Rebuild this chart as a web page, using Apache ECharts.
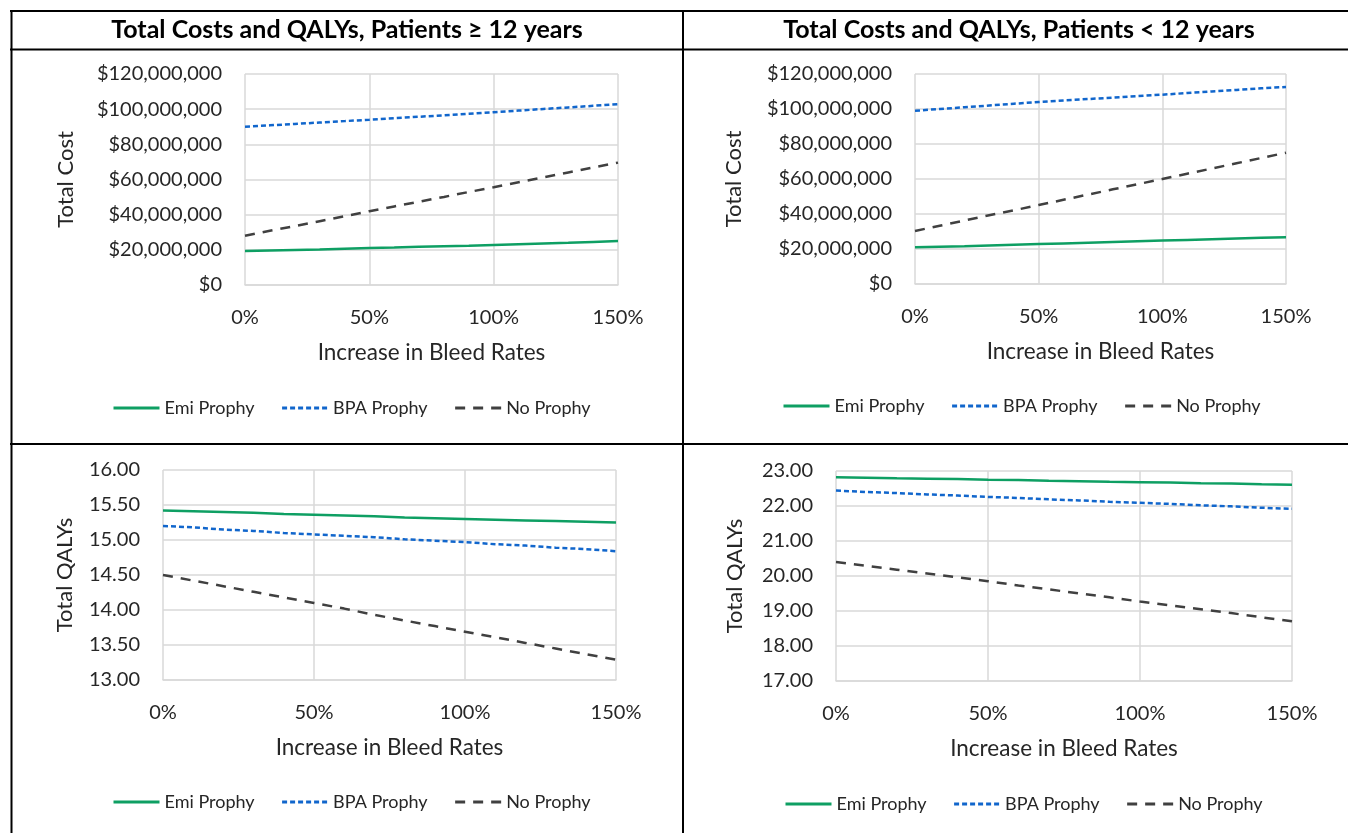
<!DOCTYPE html>
<html>
<head>
<meta charset="utf-8">
<script src="https://cdn.jsdelivr.net/npm/echarts@6/dist/echarts.min.js"></script>
<style>
  html, body { margin: 0; padding: 0; background: #fff; }
  #chart { width: 1348px; height: 833px; }
</style>
</head>
<body>
<div id="chart"></div>
<script>
// increase in bleed rates (0 = 0%, 1.5 = 150%)
const bleedIncrease = [0, 0.1, 0.2, 0.3, 0.4, 0.5, 0.6, 0.7, 0.8, 0.9, 1.0, 1.1, 1.2, 1.3, 1.4, 1.5]
const xTicks = ['0%', '50%', '100%', '150%']
const seriesNames = ['Emi Prophy', 'BPA Prophy', 'No Prophy']
const panelTitles = ['Total Costs and QALYs, Patients \u2265 12 years', 'Total Costs and QALYs, Patients < 12 years']

// total cost, millions of dollars — patients >= 12
const costOldEmi = [19.3, 19.6, 19.9, 20.2, 20.6, 21.0, 21.3, 21.7, 22.0, 22.3, 22.8, 23.2, 23.6, 24.0, 24.5, 25.0]
const costOldBpa = [90.0, 90.8, 91.6, 92.4, 93.2, 94.0, 94.9, 95.7, 96.5, 97.4, 98.3, 99.2, 100.1, 101.0, 101.9, 102.8]
const costOldNo = [28.0, 30.8, 33.5, 36.3, 39.1, 42.0, 44.7, 47.4, 50.1, 52.9, 55.6, 58.4, 61.2, 64.0, 66.8, 69.6]
// total cost, millions of dollars — patients < 12
const costYoungEmi = [21.0, 21.3, 21.6, 22.0, 22.4, 22.8, 23.2, 23.6, 24.0, 24.4, 24.8, 25.2, 25.6, 26.0, 26.4, 26.7]
const costYoungBpa = [99.0, 100.0, 101.0, 102.0, 103.0, 104.0, 104.9, 105.7, 106.5, 107.4, 108.2, 109.1, 110.0, 110.9, 111.8, 112.6]
const costYoungNo = [30.3, 33.3, 36.3, 39.3, 42.1, 45.1, 48.1, 51.1, 54.1, 57.0, 60.0, 63.0, 66.0, 69.0, 72.0, 75.0]
// total QALYs — patients >= 12
const qalyOldEmi = [15.42, 15.41, 15.40, 15.39, 15.37, 15.36, 15.35, 15.34, 15.32, 15.31, 15.30, 15.29, 15.28, 15.27, 15.26, 15.25]
const qalyOldBpa = [15.20, 15.18, 15.15, 15.13, 15.10, 15.08, 15.06, 15.04, 15.01, 14.99, 14.97, 14.94, 14.92, 14.89, 14.87, 14.84]
const qalyOldNo = [14.50, 14.42, 14.34, 14.26, 14.18, 14.10, 14.02, 13.93, 13.85, 13.77, 13.69, 13.61, 13.53, 13.45, 13.37, 13.29]
// total QALYs — patients < 12
const qalyYoungEmi = [22.82, 22.81, 22.79, 22.78, 22.77, 22.75, 22.74, 22.72, 22.71, 22.69, 22.68, 22.67, 22.65, 22.64, 22.62, 22.61]
const qalyYoungBpa = [22.44, 22.40, 22.37, 22.33, 22.30, 22.26, 22.23, 22.19, 22.16, 22.12, 22.09, 22.06, 22.02, 21.99, 21.95, 21.92]
const qalyYoungNo = [20.40, 20.29, 20.18, 20.07, 19.96, 19.85, 19.73, 19.62, 19.50, 19.39, 19.27, 19.16, 19.05, 18.94, 18.82, 18.71]

const FONT = 'Lato'
const TXT = '#262626'
const GRIDC = '#D9D9D9'
const lineStyles = [
  { color: '#0E9F63', width: 2.5, type: 'solid' },
  { color: '#1166CC', width: 2.5, type: [5, 3] },
  { color: '#404040', width: 2.5, type: [10, 8] }
]

const panels = [
  { grid: { left: 245, top: 74, width: 373, height: 211 }, data: [costOldEmi, costOldBpa, costOldNo], min: 0, max: 120, interval: 20, name: 'Total Cost', nameGap: 168, money: true, legend: { left: 112, top: 399 } },
  { grid: { left: 915, top: 74, width: 371, height: 210 }, data: [costYoungEmi, costYoungBpa, costYoungNo], min: 0, max: 120, interval: 20, name: 'Total Cost', nameGap: 170, money: true, legend: { left: 782, top: 397 } },
  { grid: { left: 163, top: 470, width: 453, height: 210 }, data: [qalyOldEmi, qalyOldBpa, qalyOldNo], min: 13, max: 16, interval: 0.5, name: 'Total QALYs', nameGap: 87, money: false, legend: { left: 112, top: 793 } },
  { grid: { left: 836, top: 471, width: 456, height: 210 }, data: [qalyYoungEmi, qalyYoungBpa, qalyYoungNo], min: 17, max: 23, interval: 1, name: 'Total QALYs', nameGap: 90, money: false, legend: { left: 784, top: 795 } }
]

const grid = []
const xAxis = []
const yAxis = []
const series = []
const legend = []

panels.forEach((p, i) => {
  grid.push(p.grid)
  xAxis.push({
    gridIndex: i,
    type: 'value',
    min: 0,
    max: 1.5,
    interval: 0.5,
    name: 'Increase in Bleed Rates',
    nameLocation: 'middle',
    nameGap: 56,
    nameTextStyle: { color: TXT, fontSize: 22.5, fontFamily: FONT },
    axisLine: { show: true, lineStyle: { color: GRIDC, width: 1.5 } },
    axisTick: { show: false },
    axisLabel: {
      color: TXT,
      fontSize: 20,
      fontFamily: FONT,
      margin: 23,
      formatter: v => xTicks[Math.round(v / 0.5)]
    },
    splitLine: { show: true, lineStyle: { color: GRIDC, width: 1.5 } }
  })
  yAxis.push({
    gridIndex: i,
    type: 'value',
    min: p.min,
    max: p.max,
    interval: p.interval,
    name: p.name,
    nameLocation: 'middle',
    nameGap: p.nameGap,
    nameTextStyle: { color: TXT, fontSize: 22, fontFamily: FONT },
    axisLine: { show: false },
    axisTick: { show: false },
    axisLabel: {
      color: TXT,
      fontSize: 20,
      fontFamily: FONT,
      margin: 23,
      formatter: v => p.money
        ? '$' + Math.round(v * 1e6).toLocaleString('en-US')
        : v.toFixed(2)
    },
    splitLine: { show: true, lineStyle: { color: GRIDC, width: 1.5 } }
  })
  p.data.forEach((vals, k) => {
    series.push({
      name: seriesNames[k],
      type: 'line',
      xAxisIndex: i,
      yAxisIndex: i,
      symbol: 'none',
      lineStyle: lineStyles[k],
      itemStyle: { color: lineStyles[k].color },
      data: bleedIncrease.map((x, j) => [x, vals[j]])
    })
  })
  legend.push({
    left: p.legend.left,
    top: p.legend.top,
    padding: 0,
    data: seriesNames,
    itemWidth: 46,
    itemHeight: 14,
    itemGap: 26,
    itemStyle: { opacity: 0 },
    lineStyle: { width: 3 },
    textStyle: { color: TXT, fontSize: 18, fontFamily: FONT },
    selectedMode: false
  })
})

const graphic = [
  // table borders
  { type: 'line', shape: { x1: 10, y1: 11, x2: 1348, y2: 11 }, style: { stroke: '#000', lineWidth: 2 } },
  { type: 'line', shape: { x1: 10, y1: 49.5, x2: 1348, y2: 49.5 }, style: { stroke: '#000', lineWidth: 2 } },
  { type: 'line', shape: { x1: 10, y1: 444, x2: 1348, y2: 444 }, style: { stroke: '#000', lineWidth: 2 } },
  { type: 'line', shape: { x1: 11.5, y1: 10, x2: 11.5, y2: 833 }, style: { stroke: '#000', lineWidth: 2 } },
  { type: 'line', shape: { x1: 683, y1: 10, x2: 683, y2: 833 }, style: { stroke: '#000', lineWidth: 2 } },
  { type: 'text', x: 347, y: 30, style: { text: panelTitles[0], fill: '#000', font: 'bold 25px Lato', textAlign: 'center', textVerticalAlign: 'middle' } },
  { type: 'text', x: 1019, y: 30, style: { text: panelTitles[1], fill: '#000', font: 'bold 25px Lato', textAlign: 'center', textVerticalAlign: 'middle' } }
]

const chart = echarts.init(document.getElementById('chart'))
chart.setOption({
  animation: false,
  backgroundColor: '#fff',
  grid,
  xAxis,
  yAxis,
  series,
  legend,
  graphic
})
</script>
</body>
</html>
